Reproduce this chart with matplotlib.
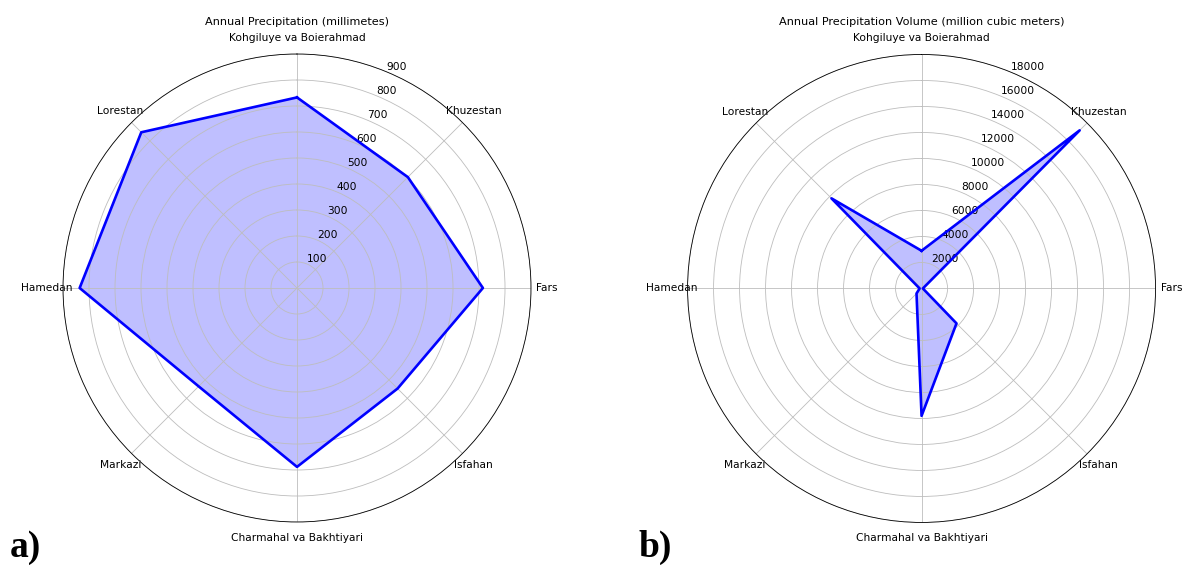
import numpy as np
import matplotlib
matplotlib.use("Agg")
import matplotlib.pyplot as plt

provinces = ["Kohgiluye va Boierahmad", "Khuzestan", "Fars", "Isfahan",
             "Charmahal va Bakhtiyari", "Markazi", "Hamedan", "Lorestan"]

# annual precipitation (mm)
precip_mm = [733, 603, 715, 547, 688, 535, 836, 847]
# annual precipitation volume (million m3)
precip_vol = [2900, 17200, 100, 3800, 9800, 550, 150, 9800]

mm_ticks = [100, 200, 300, 400, 500, 600, 700, 800, 900]
vol_ticks = [2000, 4000, 6000, 8000, 10000, 12000, 14000, 16000, 18000]

FS = 7.7


def radar(ax, values, rticks, title):
    n = len(provinces)
    angles = np.linspace(0, 2 * np.pi, n, endpoint=False).tolist()
    vals = list(values) + [values[0]]
    angs = angles + [angles[0]]
    ax.set_theta_offset(np.pi / 2)
    ax.set_theta_direction(-1)
    ax.fill(angs, vals, color="blue", alpha=0.25, lw=0)
    ax.plot(angs, vals, color="blue", lw=1.9)
    ax.set_xticks(angles)
    ax.set_xticklabels(provinces, fontsize=FS)
    ax.set_yticks(rticks)
    ax.set_yticklabels([str(t) for t in rticks], fontsize=FS)
    ax.set_ylim(0, rticks[-1])
    ax.grid(color="#bdbdbd", lw=0.6)
    ax.spines["polar"].set_linewidth(0.6)
    ax.tick_params(axis="x", pad=1)
    ax.set_title(title, fontsize=8.1, pad=6)


fig = plt.figure(figsize=(11.84, 5.69), dpi=100)
ax1 = fig.add_axes([0.2508 - 0.1976, 0.4938 - 0.4112, 0.3953, 0.8225], projection="polar")
ax2 = fig.add_axes([0.7783 - 0.1976, 0.4930 - 0.4112, 0.3953, 0.8225], projection="polar")

radar(ax1, precip_mm, mm_ticks, "Annual Precipitation (millimetes)")
radar(ax2, precip_vol, vol_ticks, "Annual Precipitation Volume (million cubic meters)")

fig.text(0.008, 0.022, "a)", fontsize=27, fontweight="bold", family="Liberation Serif")
fig.text(0.539, 0.022, "b)", fontsize=27, fontweight="bold", family="Liberation Serif")

fig.savefig("out.png", dpi=100)
